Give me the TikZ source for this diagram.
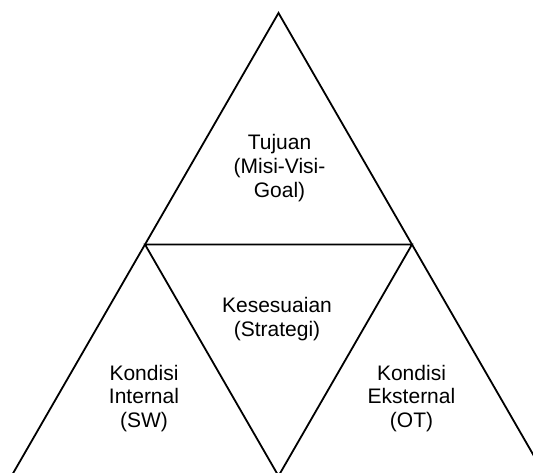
\documentclass[tikz,border=0pt]{standalone}
\usepackage{fontspec}
\setmainfont{Liberation Sans}
\tikzset{
  edge/.style={line width=1.8pt, line join=miter, black},
  lbl/.style={align=center, font=\fontsize{21}{23.8}\selectfont, inner sep=0pt, text=black}
}
\begin{document}
\begin{tikzpicture}[x=1pt,y=-1pt]
\useasboundingbox (0,0) rectangle (533,473);
\clip (0,0) rectangle (533,473);
\coordinate (A) at (278.5,13);
\coordinate (BL) at (11.5,476);
\coordinate (BR) at (545.5,476);
\coordinate (ML) at (145,244.5);
\coordinate (MR) at (412,244.5);
\coordinate (MB) at (278.5,476);
\draw[edge] (BL) -- (A) -- (BR);
\draw[edge] (ML) -- (MR) -- (MB) -- cycle;
\node[lbl] (tujuan) at (279.5,168) {Tujuan\\(Misi-Visi-\\Goal)};
\node[lbl] (kes) at (277,319) {Kesesuaian\\(Strategi)};
\node[lbl] (int) at (144,398.5) {Kondisi\\Internal\\(SW)};
\node[lbl] (ext) at (411.5,398.5) {Kondisi\\Eksternal\\(OT)};
\end{tikzpicture}
\end{document}
